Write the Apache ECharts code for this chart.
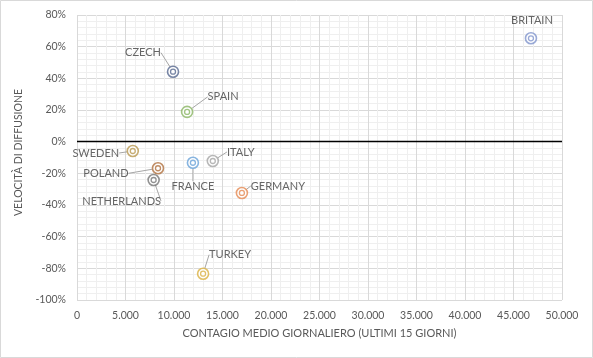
<!DOCTYPE html>
<html>
<head>
<meta charset="utf-8">
<script src="https://cdn.jsdelivr.net/npm/echarts@6/dist/echarts.min.js"></script>
<style>
html,body{margin:0;padding:0;background:#fff;}
#chart{width:593px;height:358px;}
</style>
</head>
<body>
<div id="chart"></div>
<script>
const countries = ['BRITAIN','CZECH','SPAIN','SWEDEN','ITALY','FRANCE','POLAND','NETHERLANDS','GERMANY','TURKEY'];
const dailyCases = [46800, 9900, 11350, 5750, 14000, 11950, 8350, 7900, 17000, 13000];
const spreadSpeed = [0.653, 0.442, 0.188, -0.059, -0.122, -0.133, -0.168, -0.242, -0.324, -0.834];
const xTicks = {min: 0, max: 50000, interval: 5000};
const yTicks = {min: -1, max: 0.8, interval: 0.2};

const colors = ['#7f93cc','#56688e','#8ab563','#b8974f','#a5a5a5','#6aa2d8','#b0703e','#767676','#e58a52','#d9b040'];
const labelOffsets = [[1,-18],[-30,-19],[36,-15],[-37,2],[28,-9],[0,24],[-52,5],[-32,21],[36,-7],[27,-19]];
const showLine = [false,true,true,true,true,true,true,true,true,true];

const FONT = 'Lato, "Open Sans", sans-serif';
const TXT = '#595959';

const pts = countries.map((c,i)=>({
  name: c,
  value: [dailyCases[i], spreadSpeed[i]],
  itemStyle: {borderColor: colors[i], color:'#fff'},
  labelLine: {show: showLine[i]}
}));
const inner = countries.map((c,i)=>({
  name: c,
  value: [dailyCases[i], spreadSpeed[i]],
  itemStyle: {borderColor: colors[i], color:'#fff'}
}));

const chart = echarts.init(document.getElementById('chart'), null, {renderer:'canvas'});
chart.setOption({
  animation: false,
  backgroundColor: '#fff',
  textStyle: {fontFamily: FONT},
  graphic: [{type:'rect', shape:{x:0.5,y:0.5,width:592,height:357}, style:{fill:'none', stroke:'#d9d9d9', lineWidth:1}, silent:true, z:-1}],
  grid: {left:77, right:31, top:15, bottom:58, containLabel:false},
  xAxis: {
    type:'value', min:xTicks.min, max:xTicks.max, interval:xTicks.interval,
    name:'CONTAGIO MEDIO GIORNALIERO (ULTIMI 15 GIORNI)', nameLocation:'middle', nameGap:28,
    nameTextStyle:{color:TXT, fontSize:11, fontFamily:FONT},
    axisLine:{show:false}, axisTick:{show:false},
    axisLabel:{color:TXT, fontSize:10.5, margin:10, fontFamily:FONT,
      formatter: v => v===0 ? '0' : String(v).replace(/\B(?=(\d{3})+(?!\d))/g,'.')},
    splitLine:{show:true, lineStyle:{color:'#d9d9d9', width:1}},
    minorTick:{show:false, splitNumber:5},
    minorSplitLine:{show:true, lineStyle:{color:'#efefef', width:1}}
  },
  yAxis: {
    type:'value', min:yTicks.min, max:yTicks.max, interval:yTicks.interval,
    name:'VELOCITÀ DI DIFFUSIONE', nameLocation:'middle', nameGap:50, nameRotate:90,
    nameTextStyle:{color:TXT, fontSize:10.5, fontFamily:FONT, padding:[0,0,0,10]},
    axisLine:{show:false}, axisTick:{show:false},
    axisLabel:{color:TXT, fontSize:10.5, margin:11, fontFamily:FONT,
      formatter: v => Math.round(v*100)+'%'},
    splitLine:{show:true, lineStyle:{color:'#d9d9d9', width:1}},
    minorTick:{show:false, splitNumber:5},
    minorSplitLine:{show:true, lineStyle:{color:'#efefef', width:1}}
  },
  series: [
    {
      type:'scatter', symbol:'circle', symbolSize:11, z:3,
      itemStyle:{borderWidth:1.6, color:'#fff'},
      data: pts,
      label:{show:true, position:'inside', formatter:'{b}', color:'#404040', fontSize:11, fontFamily:FONT},
      labelLine:{show:true, lineStyle:{color:'#a6a6a6', width:1}},
      labelLayout: p => ({dx: labelOffsets[p.dataIndex][0], dy: labelOffsets[p.dataIndex][1]}),
      markLine:{silent:true, symbol:'none', label:{show:false},
        lineStyle:{color:'#000', width:1.3, type:'solid'}, data:[{yAxis:0}]}
    },
    {
      type:'scatter', symbol:'circle', symbolSize:5, z:4,
      itemStyle:{borderWidth:1.3, color:'#fff'},
      data: inner, label:{show:false}
    }
  ]
});
</script>
</body>
</html>
